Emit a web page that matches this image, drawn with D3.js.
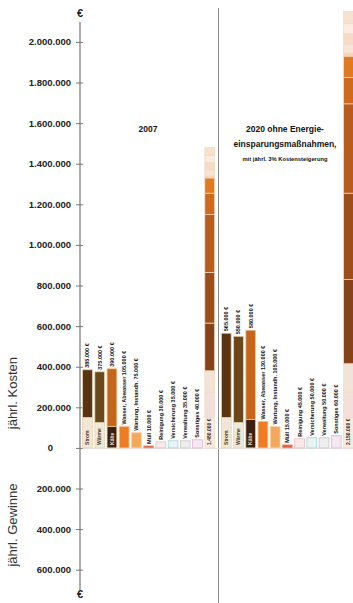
<!DOCTYPE html>
<html>
<head>
<meta charset="utf-8">
<script src="https://cdn.jsdelivr.net/npm/d3@7"></script>
<style>
  html, body { margin: 0; padding: 0; background: #fff; }
  svg { display: block; font-family: "Liberation Sans", Arial, sans-serif; }
</style>
</head>
<body>
<svg id="chart" width="353" height="603"></svg>
<script>
// ---- data -------------------------------------------------------------
const years = ["2007", "2020"];
const categories = ["Strom", "Wärme", "Kälte", "Wasser, Abwasser", "Wartung, Instandh.",
  "Müll", "Reinigung", "Versicherung", "Verwaltung", "Sonstiges"];

// lower (base) part and upper (main) part of each cost bar, in €
const baseCosts2007 = [150000, 125000, 105000, 0, 0, 0, 0, 0, 0, 0];
const mainCosts2007 = [235000, 250000, 285000, 105000, 75000, 10000, 30000, 35000, 35000, 40000];
const baseCosts2020 = [150000, 125000, 140000, 0, 0, 0, 0, 0, 0, 0];
const mainCosts2020 = [415000, 425000, 440000, 130000, 105000, 15000, 45000, 50000, 50000, 60000];

const yTicks = [-600000, -400000, -200000, 0, 200000, 400000, 600000, 800000, 1000000,
  1200000, 1400000, 1600000, 1800000, 2000000];

const groupTitles = {
  "2007": ["2007"],
  "2020": ["2020 ohne Energie-", "einsparungsmaßnahmen,", "mit jährl. 3% Kostensteigerung"]
};

// ---- styles -----------------------------------------------------------
const baseColors = ["#f2e7d6", "#efe9da", "#3a2010"];
const mainColors = ["#5a3313", "#6b4819", "#c6661b", "#ef7b23", "#f3a85c",
  "#dd5a3c", "#f8eaea", "#e8f3f4", "#eeeeee", "#f5e8f1"];
const edgeColors = ["#e9d2b4", "#e3d6b8", "#f0c89a", "#f7c090", "#f8d2aa",
  "#f2a090", "#e9b9c0", "#9fd3dc", "#c7c7c7", "#e4b3d3"];
// palette of the summed bar: three base parts, then the ten main parts
const sumColors = ["#f5ebe2", "#f3e0da", "#f1e4d6",
  "#86431a", "#9c4f1b", "#b75c1c", "#cf6a1d", "#e07a20",
  "#f4d3b4", "#f8e4d2", "#f5dcc6", "#faece0", "#f7e2cf"];

const loc = d3.formatLocale({ decimal: ",", thousands: ".", grouping: [3], currency: ["", " €"] });
const num = loc.format(",d");
const euro = v => num(v) + " €";

const data = {
  "2007": { base: baseCosts2007, main: mainCosts2007 },
  "2020": { base: baseCosts2020, main: mainCosts2020 }
};

// ---- layout -----------------------------------------------------------
const svg = d3.select("#chart");
const axisX = 80;

const y = d3.scaleLinear().domain([-700000, 2150000]).range([590, 11.5]);

const xGroup = d3.scaleBand().domain(years).range([82, 354]).paddingInner(0.04);
const xBar = d3.scaleBand().domain(d3.range(categories.length + 1))
  .range([0, xGroup.bandwidth()]).paddingInner(0.2).paddingOuter(0.05);

// divider between the two scenarios
svg.append("line")
  .attr("x1", 218.5).attr("x2", 218.5).attr("y1", 8).attr("y2", 603)
  .attr("stroke", "#8a8a8a").attr("stroke-width", 1);

// faint zero baseline
svg.append("line")
  .attr("x1", axisX).attr("x2", 353).attr("y1", y(0) + 0.5).attr("y2", y(0) + 0.5)
  .attr("stroke", "#e6dede").attr("stroke-width", 1);

// ---- axis -------------------------------------------------------------
const yAxis = d3.axisLeft(y)
  .tickValues(yTicks)
  .tickFormat(d => num(Math.abs(d)))
  .tickSizeInner(4).tickSizeOuter(0).tickPadding(5);

const gAxis = svg.append("g").attr("transform", `translate(${axisX},0)`).call(yAxis);
gAxis.select(".domain").remove();
gAxis.selectAll(".tick line").attr("x1", 3).attr("x2", -4).attr("stroke", "#777");
gAxis.selectAll(".tick text")
  .attr("font-size", 9.5).attr("font-weight", "bold").attr("fill", "#222")
  .attr("font-family", "'Liberation Sans', Arial, sans-serif");
gAxis.selectAll(".tick").filter(d => d === 0).select("text").attr("x", -27);

svg.append("line")
  .attr("x1", axisX).attr("x2", axisX).attr("y1", y(2100000)).attr("y2", y(-700000))
  .attr("stroke", "#777").attr("stroke-width", 1.2);

svg.append("text").attr("x", axisX).attr("y", 17).attr("text-anchor", "middle")
  .attr("font-size", 11).attr("font-weight", "bold").attr("fill", "#222").text("€");
svg.append("text").attr("x", axisX).attr("y", 598).attr("text-anchor", "middle")
  .attr("font-size", 11).attr("font-weight", "bold").attr("fill", "#222").text("€");

// axis titles
svg.append("text").attr("transform", `translate(17,${y(270000)}) rotate(-90)`)
  .attr("text-anchor", "middle").attr("font-size", 13).attr("fill", "#333")
  .text("jährl. Kosten");
svg.append("text").attr("transform", `translate(17,${y(-380000)}) rotate(-90)`)
  .attr("text-anchor", "middle").attr("font-size", 13).attr("fill", "#333")
  .text("jährl. Gewinne");

// ---- bars -------------------------------------------------------------
function vLabel(g, cx, yPos, text, anchor, color, size) {
  g.append("text")
    .attr("transform", `translate(${cx},${yPos}) rotate(-90)`)
    .attr("text-anchor", anchor).attr("dy", "0.35em")
    .attr("font-size", size).attr("font-weight", "bold").attr("fill", color)
    .text(text);
}

years.forEach(year => {
  const gx = xGroup(year);
  const g = svg.append("g").attr("transform", `translate(${gx},0)`);
  const { base, main } = data[year];
  const bw = xBar.bandwidth();

  categories.forEach((name, i) => {
    const x = xBar(i);
    const cx = x + bw / 2;
    const total = base[i] + main[i];
    if (base[i] > 0) {
      g.append("rect").attr("x", x).attr("width", bw)
        .attr("y", y(base[i])).attr("height", y(0) - y(base[i]))
        .attr("fill", baseColors[i]).attr("stroke", edgeColors[i]).attr("stroke-width", 0.8);
    }
    g.append("rect").attr("x", x).attr("width", bw)
      .attr("y", y(total)).attr("height", y(base[i]) - y(total))
      .attr("fill", mainColors[i]).attr("stroke", edgeColors[i]).attr("stroke-width", 0.8);

    if (base[i] > 0) {
      vLabel(g, cx, y(0) - 3, name, "start", i === 2 ? "#f3e2c8" : "#4a3520", 5);
      vLabel(g, cx, y(total) - 2, euro(total), "start", "#111", 5.5);
    } else {
      vLabel(g, cx, y(total) - 2, name + " " + euro(total), "start", "#111", 5.5);
    }
  });

  // summed bar, stacked from all parts
  const parts = [];
  [0, 1, 2].forEach(i => parts.push(base[i]));
  categories.forEach((n, i) => parts.push(main[i]));
  const sumX = xBar(categories.length);
  let acc = 0;
  parts.forEach((v, k) => {
    g.append("rect").attr("x", sumX).attr("width", bw)
      .attr("y", y(acc + v)).attr("height", y(acc) - y(acc + v))
      .attr("fill", sumColors[k]).attr("stroke", "#f2d9c2").attr("stroke-width", 0.7);
    acc += v;
  });
  vLabel(g, sumX + bw / 2, y(0) - 3, euro(acc), "start", "#3a2a1a", 5);

  // scenario title
  const lines = groupTitles[year];
  const tx = year === "2007" ? 148 - gx : 285 - gx;
  lines.forEach((t, k) => {
    g.append("text").attr("x", tx).attr("y", 132 + k * 14.5)
      .attr("text-anchor", "middle")
      .attr("font-size", k === 2 ? 5.8 : 8.5).attr("font-weight", "bold").attr("fill", "#111")
      .text(t);
  });
});
</script>
</body>
</html>
